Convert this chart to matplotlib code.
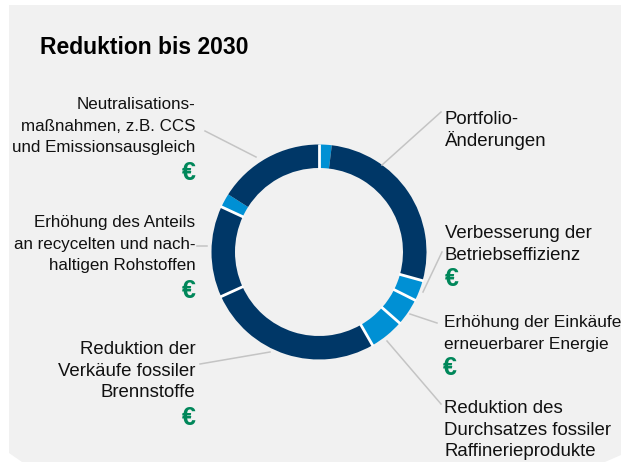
import numpy as np
import matplotlib
matplotlib.use('Agg')
import matplotlib.pyplot as plt
from matplotlib.patches import Polygon

plt.rcParams['font.family'] = ['Liberation Sans', 'DejaVu Sans']

W, H = 621, 462

# shares of the ring in percent, clockwise from the top
shares = [1.9, 27.4, 3.1, 4.1, 5.2, 26.5, 13.7, 2.1, 16.0]
kinds = ['light', 'dark', 'light', 'light', 'light', 'dark', 'dark', 'light', 'dark']
# a white separator follows these segments
separated = [False, True, True, True, True, True, True, False, True]

left_labels = [['Neutralisations-', 'maßnahmen, z.B. CCS', 'und Emissionsausgleich'],
               ['Erhöhung des Anteils', 'an recycelten und nach-', 'haltigen Rohstoffen'],
               ['Reduktion der', 'Verkäufe fossiler', 'Brennstoffe']]
right_labels = [['Portfolio-', 'Änderungen'],
                ['Verbesserung der', 'Betriebseffizienz'],
                ['Erhöhung der Einkäufe', 'erneuerbarer Energie'],
                ['Reduktion des', 'Durchsatzes fossiler', 'Raffinerieprodukte']]

colors = {'light': '#0090d4', 'dark': '#003767'}
GREEN = '#00875a'
GREY = '#c4c4c4'
PANEL = '#f1f1f1'

fig = plt.figure(figsize=(W / 100, H / 100), dpi=100, facecolor='white')
ax = fig.add_axes([0, 0, 1, 1])
ax.set_xlim(0, W)
ax.set_ylim(H, 0)
ax.axis('off')

panel = [(9, 5), (621, 5), (621, 455), (605, 462), (22, 462), (9, 453)]
ax.add_patch(Polygon(panel, closed=True, facecolor=PANEL, edgecolor='none', zorder=0))

ax.text(40, 48, 'Reduktion bis 2030', fontsize=16.5, fontweight='bold', color='black', va='center')

cx, cy = 319, 252
r_out, r_in = 107.5, 84

# y axis is flipped, so counterclock=True runs clockwise on screen
wedges, _ = ax.pie(shares, colors=[colors[k] for k in kinds], startangle=-90, counterclock=True,
                   center=(cx, cy), radius=r_out, wedgeprops=dict(width=r_out - r_in, linewidth=0),
                   frame=False)
ax.set_xlim(0, W)
ax.set_ylim(H, 0)
ax.set_aspect('auto')

edges = np.cumsum(shares) / 100 * 2 * np.pi
for a, sep in zip(edges, separated):
    if sep:
        ax.plot([cx + (r_in - 1) * np.sin(a), cx + (r_out + 1) * np.sin(a)],
                [cy - (r_in - 1) * np.cos(a), cy - (r_out + 1) * np.cos(a)],
                color='white', lw=2.0, solid_capstyle='butt', zorder=5)

leaders = [((382, 165), (441, 112)), ((423, 292), (442, 252)), ((410, 314), (437, 323)),
           ((387, 341), (441, 404)), ((256, 157), (205, 131)), ((207, 246), (197, 246)),
           ((270, 352), (200, 364))]
for (x0, y0), (x1, y1) in leaders:
    ax.plot([x0, x1], [y0, y1], color=GREY, lw=1.1, zorder=1)

# the reference tracks some labels wider than others
TIGHT, WIDE = 12.25, 13.4
STEP = 21.6
for lines, y, fs in zip(left_labels, [109, 227, 354], [TIGHT, TIGHT, WIDE]):
    for i, line in enumerate(lines):
        ax.text(195.5, y + i * STEP, line, fontsize=fs, ha='right', va='baseline', color='#111111')
for lines, x, y, fs in zip(right_labels, [445, 445, 444, 444], [124, 238, 327, 413], [WIDE, WIDE, 12.4, WIDE]):
    for i, line in enumerate(lines):
        ax.text(x, y + i * STEP, line, fontsize=fs, ha='left', va='baseline', color='#111111')

for x, y in [(189, 173), (189, 291), (189, 418), (452, 279), (450, 368)]:
    ax.text(x, y, '€', fontsize=18, fontweight='bold', color=GREEN, ha='center', va='center')

fig.savefig('out.png', dpi=100)
